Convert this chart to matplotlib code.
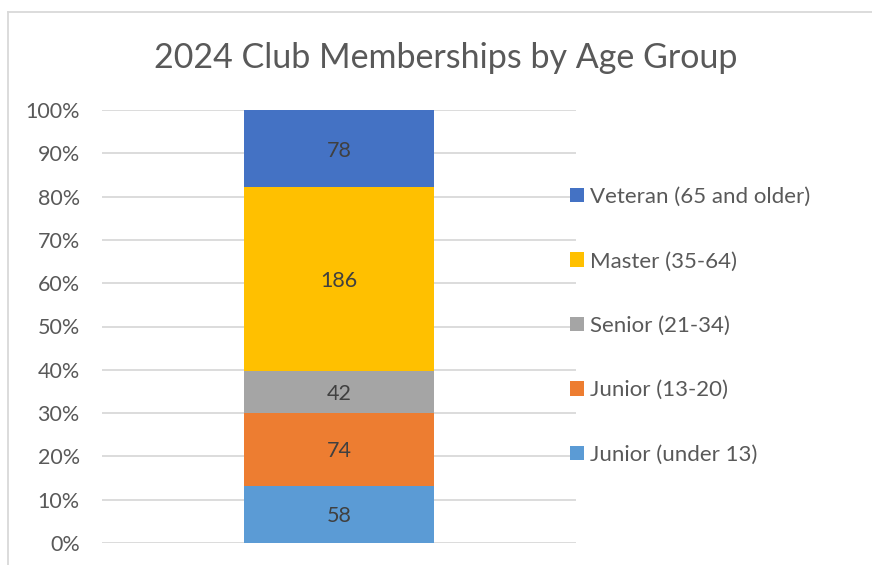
import matplotlib
matplotlib.use("Agg")
import matplotlib.pyplot as plt
from matplotlib.lines import Line2D
from matplotlib.patches import Patch
import numpy as np

# data, bottom to top
groups = ["Junior (under 13)", "Junior (13-20)", "Senior (21-34)",
          "Master (35-64)", "Veteran (65 and older)"]
members = [58, 74, 42, 186, 78]
colors = ["#5B9BD5", "#ED7D31", "#A5A5A5", "#FFC000", "#4472C4"]
title = "2024 Club Memberships by Age Group"

plt.rcParams['font.family'] = ['Lato', 'DejaVu Sans']

fig = plt.figure(figsize=(8.72, 5.65), dpi=100)
ax = fig.add_axes([102 / 872, 22 / 565, 474 / 872, 433 / 565])

total = sum(members)
shares = np.array(members) / total * 100
bottom = 0
for g, v, s, c in zip(groups, members, shares, colors):
    ax.bar(0, s, width=1.0, bottom=bottom, color=c, label=g, zorder=2)
    ax.text(0, bottom + s / 2, str(v), ha='center', va='center_baseline',
            fontsize=15.5, color='#404040', zorder=3)
    bottom += s

ax.set_xlim(-1.25, 1.25)
ax.set_ylim(0, 100)
ax.set_yticks(range(0, 101, 10))
ax.set_yticklabels([f"{t}%" for t in range(0, 101, 10)])
ax.tick_params(axis='y', length=0, pad=16, labelsize=15.5, labelcolor='#595959')
ax.set_xticks([])
ax.yaxis.grid(True, color='#D9D9D9', linewidth=1.3, zorder=0)
for sp in ax.spines.values():
    sp.set_visible(False)

fig.text(446 / 872, (565 - 68) / 565, title, ha='center', va='baseline',
         fontsize=24.5, color='#595959')

# legend, top entry first
handles = [Patch(facecolor=c, edgecolor='none') for c in colors[::-1]]
leg = fig.legend(handles, groups[::-1], loc='upper left',
                 bbox_to_anchor=(570 / 872, (565 - 187) / 565),
                 frameon=False, fontsize=16, labelcolor='#595959',
                 handlelength=0.63, handleheight=0.63, handletextpad=0.27,
                 labelspacing=2.0, borderpad=0, borderaxespad=0)

# chart border (top and left)
fig.add_artist(Line2D([8 / 872, 1], [1 - 12 / 565] * 2, color='#D9D9D9', lw=1.3))
fig.add_artist(Line2D([8 / 872] * 2, [0, 1 - 12 / 565], color='#D9D9D9', lw=1.3))

fig.savefig("out.png", dpi=100)
